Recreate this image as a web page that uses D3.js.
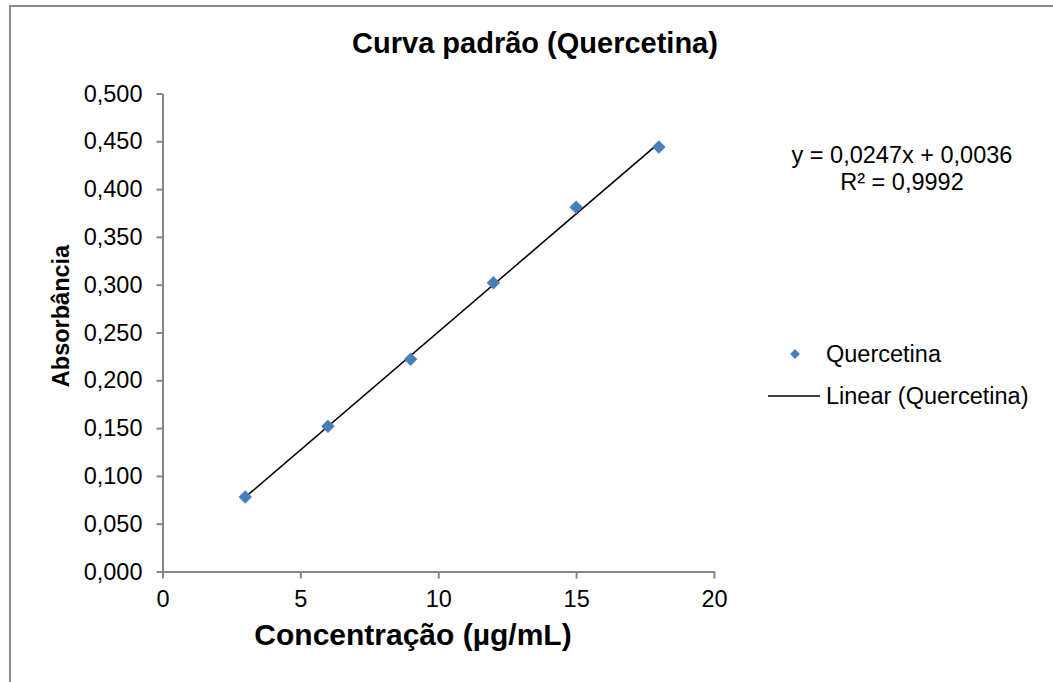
<!DOCTYPE html>
<html>
<head>
<meta charset="utf-8">
<script src="https://cdn.jsdelivr.net/npm/d3@7"></script>
<style>
  body { margin: 0; background: #fff; }
  svg { display: block; font-family: "Liberation Sans", Arial, sans-serif; }
</style>
</head>
<body>
<div id="chart"></div>
<script>
// data
const concentration = [3, 6, 9, 12, 15, 18];
const absorbance = [0.078, 0.152, 0.222, 0.302, 0.381, 0.444];
const xTicks = [0, 5, 10, 15, 20];
const yTicks = [0, 0.05, 0.1, 0.15, 0.2, 0.25, 0.3, 0.35, 0.4, 0.45, 0.5];
const trend = {slope: 0.0247, intercept: 0.0036, r2: "0,9992"};

const W = 1053, H = 682;
const margin = {top: 93.5, right: 339, bottom: 110.5, left: 162.5};
const width = W - margin.left - margin.right,
    height = H - margin.top - margin.bottom;

const svg = d3.select("#chart")
  .append("svg")
    .attr("width", W)
    .attr("height", H);

// chart area frame (right and bottom edges fall outside the picture)
svg.append("rect")
  .attr("x", 10).attr("y", 6)
  .attr("width", W + 20).attr("height", H + 20)
  .attr("fill", "#fff")
  .attr("stroke", "#8c8c8c")
  .attr("stroke-width", 2);

const g = svg.append("g")
  .attr("transform", `translate(${margin.left},${margin.top})`);

const fmt = d3.format(".3f");
const comma = v => fmt(v).replace(".", ",");

// X axis
const x = d3.scaleLinear()
  .domain([0, 20])
  .range([0, width]);
const xAxis = g.append("g")
  .attr("transform", `translate(0, ${height})`)
  .call(d3.axisBottom(x).tickValues(xTicks).tickSize(7).tickSizeOuter(0).tickPadding(12));

// Y axis
const y = d3.scaleLinear()
  .domain([0, 0.5])
  .range([height, 0]);
const yAxis = g.append("g")
  .call(d3.axisLeft(y).tickValues(yTicks).tickFormat(comma).tickSize(6).tickSizeOuter(0).tickPadding(14));

[xAxis, yAxis].forEach(a => {
  a.select(".domain").attr("stroke", "#868686").attr("stroke-width", 2);
  a.selectAll(".tick line").attr("stroke", "#868686").attr("stroke-width", 2);
  a.selectAll("text")
    .attr("fill", "#000")
    .style("font-size", "23.5px")
    .style("font-family", "'Liberation Sans', Arial, sans-serif");
});

// trend line
const line = d3.line()
  .x(d => x(d))
  .y(d => y(trend.slope * d + trend.intercept));
g.append("path")
  .datum(d3.extent(concentration))
  .attr("d", line)
  .attr("fill", "none")
  .attr("stroke", "#000")
  .attr("stroke-width", 1.6);

// points
const diamond = d3.symbol().type(d3.symbolSquare).size(90);
g.selectAll(".pt")
  .data(concentration)
  .join("path")
    .attr("class", "pt")
    .attr("d", diamond)
    .attr("transform", (d, i) => `translate(${x(d)},${y(absorbance[i])}) rotate(45)`)
    .attr("fill", "#4a7ebb");

// titles
svg.append("text")
  .attr("x", 535).attr("y", 53)
  .attr("text-anchor", "middle")
  .style("font-size", "29px").style("font-weight", "bold")
  .text("Curva padrão (Quercetina)");

svg.append("text")
  .attr("x", 413).attr("y", 645)
  .attr("text-anchor", "middle")
  .style("font-size", "30px").style("font-weight", "bold")
  .text("Concentração (µg/mL)");

svg.append("text")
  .attr("transform", "translate(69,316) rotate(-90)")
  .attr("text-anchor", "middle")
  .style("font-size", "23.5px").style("font-weight", "bold")
  .text("Absorbância");

// equation
const eq = svg.append("text")
  .attr("text-anchor", "middle")
  .style("font-size", "23.5px");
eq.append("tspan").attr("x", 902).attr("y", 163)
  .text(`y = ${String(trend.slope).replace(".", ",")}x + ${String(trend.intercept).replace(".", ",")}`);
eq.append("tspan").attr("x", 902).attr("y", 190)
  .text(`R² = ${trend.r2}`);

// legend
const leg = svg.append("g");
leg.append("path")
  .attr("d", d3.symbol().type(d3.symbolSquare).size(48))
  .attr("transform", "translate(795,354) rotate(45)")
  .attr("fill", "#4a7ebb");
leg.append("text").attr("x", 826).attr("y", 362)
  .style("font-size", "23.5px").text("Quercetina");
leg.append("line")
  .attr("x1", 768).attr("x2", 820).attr("y1", 396).attr("y2", 396)
  .attr("stroke", "#000").attr("stroke-width", 1.6);
leg.append("text").attr("x", 826).attr("y", 404)
  .style("font-size", "23.5px").text("Linear (Quercetina)");
</script>
</body>
</html>
